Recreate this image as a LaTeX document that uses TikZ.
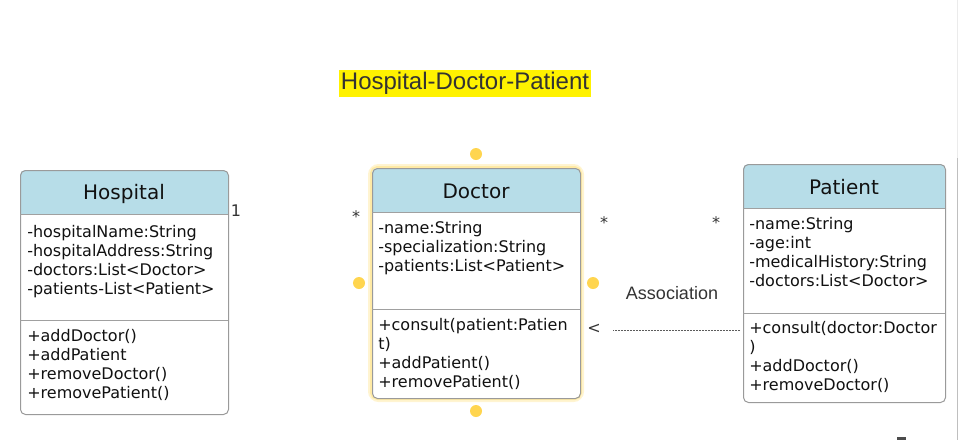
\documentclass[tikz,border=0pt]{standalone}
\usepackage{fontspec}
\setmainfont{DejaVu Sans}
\newfontfamily\arialf{Liberation Sans}
\definecolor{headblue}{HTML}{B7DDE8}
\definecolor{boxgray}{HTML}{9A9A9A}
\definecolor{sepgray}{HTML}{A0A0A0}
\definecolor{txt}{HTML}{111111}
\definecolor{dotyel}{HTML}{FFD54F}
\definecolor{glowyel}{HTML}{FFE07A}
\definecolor{darktxt}{HTML}{333333}
\begin{document}
\begin{tikzpicture}[x=0.75pt,y=-0.75pt,
  classbox/.style={draw=boxgray, line width=0.75pt, rounded corners=3.75pt, inner sep=0pt, anchor=north west},
  headtext/.style={font=\fontsize{15pt}{18pt}\selectfont, text=txt, inner sep=0pt},
  membtext/.style={font=\fontsize{12pt}{14.25pt}\selectfont, text=txt, inner sep=0pt, align=left, anchor=north west},
  seprule/.style={draw=sepgray, line width=0.75pt},
  mult/.style={font=\fontsize{12pt}{14pt}\selectfont, text=darktxt, inner sep=0pt},
  handle/.style={circle, fill=dotyel, inner sep=0pt, minimum size=9pt},
  assoc/.style={draw=darktxt!80, line width=0.75pt, dash pattern=on 1.5pt off 0.75pt}
]
\useasboundingbox (0,0) rectangle (959,440);
% scrollbar edge
\draw[black!8, line width=0.75pt] (957.5,0) -- (957.5,158);
\draw[black!25, line width=0.75pt] (957.5,158) -- (957.5,440);
\fill[black!70] (897,437) rectangle (906,440);

% title
\node[fill=yellow, inner xsep=1.5pt, inner ysep=2pt, font=\arialf\fontsize{18pt}{20pt}\selectfont, text=darktxt, minimum height=18.75pt] (title) at (465,83.5) {Hospital-Doctor-Patient};

% ---------- Hospital ----------
\fill[white, rounded corners=3.75pt] (20,170) rectangle (228,414);
\begin{scope}
  \clip[rounded corners=3.75pt] (20,170) rectangle (228,414);
  \fill[headblue] (20,170) rectangle (228,214);
\end{scope}
\node[classbox, minimum width=156pt, minimum height=183pt] (hosp) at (20,170) {};
\draw[seprule] (20,214) -- (228,214);
\draw[seprule] (20,320) -- (228,320);
\node[headtext] (hospname) at (124,194) {Hospital};
\node[membtext] (hospattr) at (27,225.3) {-hospitalName:String\\-hospitalAddress:String\\-doctors:List<Doctor>\\-patients-List<Patient>};
\node[membtext] (hospmeth) at (27,329.3) {+addDoctor()\\+addPatient\\+removeDoctor()\\+removePatient()};

% ---------- Doctor ----------
\draw[glowyel, opacity=0.35, line width=6pt, rounded corners=5pt] (372,168) rectangle (580,398);
\draw[glowyel, opacity=0.5, line width=3pt, rounded corners=4pt] (372,168) rectangle (580,398);
\fill[white, rounded corners=3.75pt] (372,168) rectangle (580,398);
\begin{scope}
  \clip[rounded corners=3.75pt] (372,168) rectangle (580,398);
  \fill[headblue] (372,168) rectangle (580,212);
\end{scope}
\node[classbox, minimum width=156pt, minimum height=172.5pt] (doc) at (372,168) {};
\draw[seprule] (372,212) -- (580,212);
\draw[seprule] (372,309) -- (580,309);
\node[headtext] (docname) at (476,191) {Doctor};
\node[membtext] (docattr) at (378,221.3) {-name:String\\-specialization:String\\-patients:List<Patient>};
\node[membtext] (docmeth) at (378,318.3) {+consult(patient:Patien\\t)\\+addPatient()\\+removePatient()};
\node[handle] (hn) at (476,154) {};
\node[handle] (hw) at (359,283) {};
\node[handle] (he) at (593,283) {};
\node[handle] (hs) at (476,411) {};

% ---------- Patient ----------
\fill[white, rounded corners=3.75pt] (743,164) rectangle (945,402);
\begin{scope}
  \clip[rounded corners=3.75pt] (743,164) rectangle (945,402);
  \fill[headblue] (743,164) rectangle (945,208);
\end{scope}
\node[classbox, minimum width=151.5pt, minimum height=178.5pt] (pat) at (743,164) {};
\draw[seprule] (743,208) -- (945,208);
\draw[seprule] (743,313) -- (945,313);
\node[headtext] (patname) at (844,187) {Patient};
\node[membtext] (patattr) at (749,217.3) {-name:String\\-age:int\\-medicalHistory:String\\-doctors:List<Doctor>};
\node[membtext] (patmeth) at (749,321.3) {+consult(doctor:Doctor\\)\\+addDoctor()\\+removeDoctor()};

% ---------- labels & connector ----------
\node[mult] (m1) at (236,211) {1};
\node[mult] (m2) at (356,217) {*};
\node[mult] (m3) at (604,223) {*};
\node[mult] (m4) at (716,223) {*};
\node[mult] (lt) at (594,329) {<};
\node[font=\arialf\fontsize{13.5pt}{16pt}\selectfont, text=darktxt, inner sep=0pt] (assoclbl) at (672,293) {Association};
\coordinate (dashend) at (613,330);
\draw[assoc] (pat.west |- 0,330) ++(-3,0) -- (dashend);
\end{tikzpicture}
\end{document}
